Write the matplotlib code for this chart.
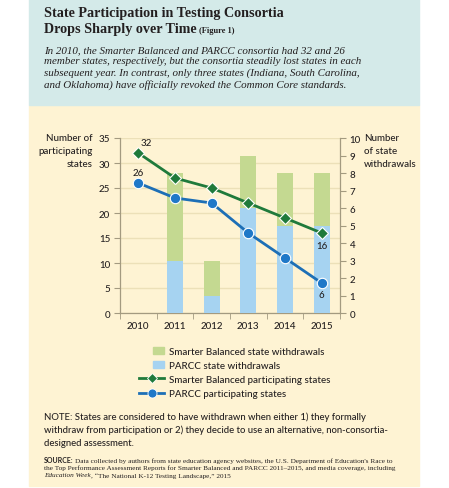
import matplotlib.pyplot as plt
from matplotlib.patches import Rectangle, Patch
from matplotlib.lines import Line2D
from matplotlib.legend_handler import HandlerPatch

years = ["2010", "2011", "2012", "2013", "2014", "2015"]
sb_states = [32, 27, 25, 22, 19, 16]
parcc_states = [26, 23, 22, 16, 11, 6]
sb_withdrawals = [0, 5, 2, 3, 3, 3]
parcc_withdrawals = [0, 3, 1, 6, 5, 5]

BLUE_BG = "#d4eae9"
YELLOW_BG = "#fef3d3"
AXIS_C = "#a39a80"
GRID_C = "#ece0b8"
GREEN_BAR = "#c4d991"
BLUE_BAR = "#a6d3f1"
GREEN_LINE = "#1f7a3b"
BLUE_LINE = "#1d6fb6"
TXT = "#231f20"
SANS = ["Lato", "DejaVu Sans"]
SERIF = ["Liberation Serif", "DejaVu Serif"]

W, H = 449, 489
fig = plt.figure(figsize=(W / 100, H / 100), dpi=100)
fig.patch.set_facecolor("white")


def fx(px):
    return px / W


def fy(py):
    return 1 - py / H


def right_edge(txt):
    fig.canvas.draw()
    return txt.get_window_extent().x1 / W


# background panels
fig.patches.append(Rectangle((fx(29), fy(487)), fx(390), fy(106) - fy(487),
                             transform=fig.transFigure, color=YELLOW_BG, zorder=-2))
fig.patches.append(Rectangle((fx(29), fy(106)), fx(390), fy(0) - fy(106),
                             transform=fig.transFigure, color=BLUE_BG, zorder=-2))

# title + intro
fig.text(fx(44), fy(14), "State Participation in Testing Consortia", family=SERIF,
         weight="bold", fontsize=10.2, color=TXT, va="center")
t2 = fig.text(fx(44), fy(30), "Drops Sharply over Time", family=SERIF,
              weight="bold", fontsize=10.2, color=TXT, va="center")
fig.text(right_edge(t2) + 0.006, fy(31), "(Figure 1)", family=SERIF, weight="bold",
         fontsize=6, color=TXT, va="center")
intro = ("In 2010, the Smarter Balanced and PARCC consortia had 32 and 26\n"
         "member states, respectively, but the consortia steadily lost states in each\n"
         "subsequent year. In contrast, only three states (Indiana, South Carolina,\n"
         "and Oklahoma) have officially revoked the Common Core standards.")
fig.text(fx(44), fy(46), intro, family=SERIF, style="italic", fontsize=7.9,
         color=TXT, va="top", linespacing=1.3)

# chart axes
ax = fig.add_axes([fx(120), fy(314), fx(340) - fx(120), fy(139) - fy(314)])
ax.patch.set_visible(False)
ax.set_xlim(-0.5, 5.5)
ax.set_ylim(0, 35)
ax.set_yticks(range(0, 36, 5))
ax.set_xticks(range(len(years)))
ax.set_xticklabels(years)
ax.set_xticks([i + 0.5 for i in range(-1, 6)], minor=True)
ax.grid(axis="y", color=GRID_C, lw=1.0)
ax.set_axisbelow(True)
ax.tick_params(axis="x", which="major", length=0, pad=6)
ax.tick_params(axis="x", which="minor", length=4, color=AXIS_C, direction="out")
ax.tick_params(axis="y", length=4, color=AXIS_C, pad=3)
for s in ["top", "right"]:
    ax.spines[s].set_visible(False)
for s in ["left", "bottom"]:
    ax.spines[s].set_color(AXIS_C)
    ax.spines[s].set_linewidth(0.9)

ax2 = ax.twinx()
ax2.set_ylim(0, 10)
ax2.set_yticks(range(0, 11))
ax2.tick_params(axis="y", length=4, color=AXIS_C, pad=3)
for s in ["top", "left", "bottom"]:
    ax2.spines[s].set_visible(False)
ax2.spines["right"].set_color(AXIS_C)
ax2.spines["right"].set_linewidth(0.9)

x = list(range(len(years)))
ax2.bar(x, parcc_withdrawals, width=0.44, color=BLUE_BAR, edgecolor="none")
ax2.bar(x, sb_withdrawals, width=0.44, bottom=parcc_withdrawals, color=GREEN_BAR,
        edgecolor="none")

ax3 = ax.twinx()
ax3.set_ylim(0, 35)
ax3.axis("off")
ax3.plot(x, sb_states, color=GREEN_LINE, lw=2, marker="D", ms=6.5,
         mfc=GREEN_LINE, mec="white", mew=0.8, clip_on=False)
ax3.plot(x, parcc_states, color=BLUE_LINE, lw=2, marker="o", ms=7.5,
         mfc="#1f78c8", mec="white", mew=0.8, clip_on=False)

for a in (ax, ax2):
    for lab in a.get_xticklabels() + a.get_yticklabels():
        lab.set_family(SANS)
        lab.set_fontsize(7)
        lab.set_color(TXT)
        lab.set_fontweight("medium")

lbl = dict(family=SANS, fontsize=7, color=TXT, fontweight="medium")
ax3.annotate(str(sb_states[0]), (0, sb_states[0]), xytext=(6, 4),
             textcoords="offset points", ha="center", va="bottom", **lbl)
ax3.annotate(str(parcc_states[0]), (0, parcc_states[0]), xytext=(0, 4),
             textcoords="offset points", ha="center", va="bottom", **lbl)
ax3.annotate(str(sb_states[-1]), (5, sb_states[-1]), xytext=(0, -6),
             textcoords="offset points", ha="center", va="top", **lbl)
ax3.annotate(str(parcc_states[-1]), (5, parcc_states[-1]), xytext=(0, -5),
             textcoords="offset points", ha="center", va="top", **lbl)

fig.text(fx(93), fy(134), "Number of\nparticipating\nstates", ha="right", va="top",
         linespacing=1.6, **lbl)
fig.text(fx(364), fy(134), "Number\nof state\nwithdrawals", ha="left", va="top",
         linespacing=1.6, **lbl)


def small_box(legend, orig_handle, xdescent, ydescent, width, height, fontsize):
    return Rectangle((-xdescent + width * 0.56, -ydescent), width * 0.44, height)


handles = [
    Patch(color=GREEN_BAR, label="Smarter Balanced state withdrawals"),
    Patch(color=BLUE_BAR, label="PARCC state withdrawals"),
    Line2D([], [], color=GREEN_LINE, lw=2, marker="D", ms=5.5, mfc=GREEN_LINE,
           mec="white", mew=0.6, label="Smarter Balanced participating states"),
    Line2D([], [], color=BLUE_LINE, lw=2, marker="o", ms=6.5, mfc="#1f78c8",
           mec="white", mew=0.6, label="PARCC participating states"),
]
fig.legend(handles=handles, loc="upper left", bbox_to_anchor=(fx(134), fy(343)),
           frameon=False, prop=dict(family=SANS, size=7, weight="medium"),
           handlelength=2.6, handleheight=0.75, handletextpad=0.5, labelspacing=0.52,
           borderpad=0, labelcolor=TXT,
           handler_map={Patch: HandlerPatch(patch_func=small_box)})

note = ("NOTE: States are considered to have withdrawn when either 1) they formally\n"
        "withdraw from participation or 2) they decide to use an alternative, non-consortia-\n"
        "designed assessment.")
fig.text(fx(44), fy(412), note, family=SANS, fontsize=6.8, color=TXT, va="top",
         linespacing=1.55, fontweight="medium")

s0 = fig.text(fx(44), fy(461), "SOURCE:", family=SANS, fontsize=5, weight="bold",
              color=TXT, va="center")
src = ("Data collected by authors from state education agency websites, the U.S. "
       "Department of Education's Race to")
fig.text(right_edge(s0) + 0.004, fy(461), src, family=SERIF, fontsize=5.2, color=TXT,
         va="center")
fig.text(fx(44), fy(468.5), "the Top Performance Assessment Reports for Smarter "
         "Balanced and PARCC 2011\u20132015, and media coverage, including",
         family=SERIF, fontsize=5.2, color=TXT, va="center")
t = fig.text(fx(44), fy(476), "Education Week", family=SERIF, style="italic",
             fontsize=5.2, color=TXT, va="center")
fig.text(right_edge(t), fy(476), ", \u201cThe National K-12 Testing Landscape,\u201d 2015",
         family=SERIF, fontsize=5.2, color=TXT, va="center")

fig.savefig("out.png", dpi=100, facecolor=fig.get_facecolor())
